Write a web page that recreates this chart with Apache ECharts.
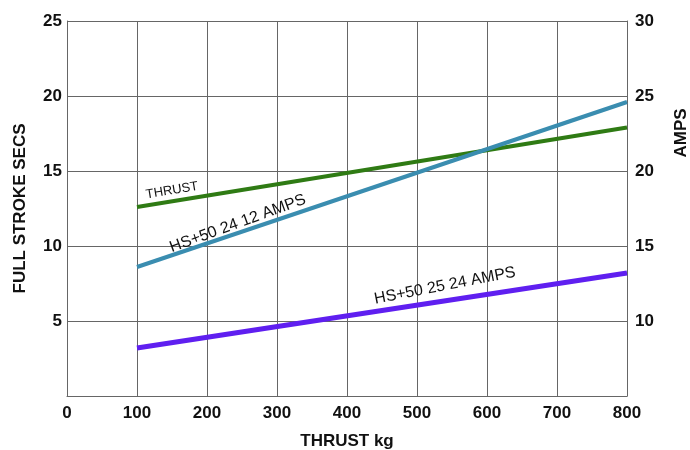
<!DOCTYPE html>
<html>
<head>
<meta charset="utf-8">
<script src="https://cdn.jsdelivr.net/npm/echarts@6/dist/echarts.min.js"></script>
<style>
html,body{margin:0;padding:0;background:#fff;}
#c{width:690px;height:450px;}
</style>
</head>
<body>
<div id="c"></div>
<script>
// ---- data ----
var xTicks = [0, 100, 200, 300, 400, 500, 600, 700, 800];
var leftTicks = [0, 5, 10, 15, 20, 25];
var rightTicks = [5, 10, 15, 20, 25, 30];
var thrustX = [100, 800];
var thrustY = [12.6, 17.9];
var hs2412X = [100, 800];
var hs2412Y = [8.6, 19.6];
var hs2524X = [100, 800];
var hs2524Y = [3.2, 8.2];
var seriesNames = ['THRUST', 'HS+50 24 12 AMPS', 'HS+50 25 24 AMPS'];
// label anchor points (data space) for the in-plot annotations
var labelAnchors = [[150, 13.7], [244, 11.5], [540, 7.35]];

function pairs(xs, ys) { return xs.map(function (x, i) { return [x, ys[i]]; }); }

var FONT = '"Liberation Sans", Arial, sans-serif';
var chart = echarts.init(document.getElementById('c'), null, { renderer: 'canvas' });
var gridCol = '#666666';

var option = {
  animation: false,
  backgroundColor: '#ffffff',
  grid: { left: 67, right: 63, top: 21, bottom: 54, containLabel: false, outerBoundsMode: 'none' },
  xAxis: {
    type: 'value', min: 0, max: 800, interval: 100,
    axisLine: { show: true, lineStyle: { color: gridCol, width: 1 } },
    axisTick: { show: false },
    splitLine: { show: true, lineStyle: { color: gridCol, width: 1 } },
    axisLabel: { color: '#111', fontFamily: FONT, fontWeight: 'bold', fontSize: 17, margin: 9 },
    name: 'THRUST kg', nameLocation: 'middle', nameGap: 37,
    nameTextStyle: { color: '#111', fontFamily: FONT, fontWeight: 'bold', fontSize: 17 }
  },
  yAxis: [{
    type: 'value', min: 0, max: 25, interval: 5,
    axisLine: { show: true, lineStyle: { color: gridCol, width: 1 } },
    axisTick: { show: false },
    splitLine: { show: true, lineStyle: { color: gridCol, width: 1 } },
    axisLabel: { color: '#111', fontFamily: FONT, fontWeight: 'bold', fontSize: 17, margin: 5,
      formatter: function (v) { return v === 0 ? '' : String(v); } },
    name: 'FULL STROKE SECS', nameLocation: 'middle', nameGap: 38, nameRotate: 90,
    nameTextStyle: { color: '#111', fontFamily: FONT, fontWeight: 'bold', fontSize: 17 }
  }, {
    type: 'value', min: 5, max: 30, interval: 5, position: 'right',
    axisLine: { show: true, lineStyle: { color: gridCol, width: 1 } },
    axisTick: { show: false },
    splitLine: { show: false },
    axisLabel: { color: '#111', fontFamily: FONT, fontWeight: 'bold', fontSize: 17, margin: 8,
      formatter: function (v) { return v === 5 ? '' : String(v); } }
  }],
  series: [{
    name: seriesNames[0], type: 'line', yAxisIndex: 0, data: pairs(thrustX, thrustY),
    symbol: 'none', lineStyle: { color: '#2f7b14', width: 4 }, z: 3
  }, {
    name: seriesNames[1], type: 'line', yAxisIndex: 0, data: pairs(hs2412X, hs2412Y),
    symbol: 'none', lineStyle: { color: '#3a8db0', width: 4 }, z: 4
  }, {
    name: seriesNames[2], type: 'line', yAxisIndex: 0, data: pairs(hs2524X, hs2524Y),
    symbol: 'none', lineStyle: { color: '#5f1ff0', width: 5 }, z: 3
  }]
};
chart.setOption(option);

// In-plot annotations positioned through the axes' own scales
var rotations = [9.5, 20, 11];
var sizes = [13, 16, 16];
var graphics = labelAnchors.map(function (p, i) {
  var px = chart.convertToPixel({ gridIndex: 0 }, p);
  return {
    type: 'text', x: px[0], y: px[1], rotation: rotations[i] * Math.PI / 180,
    style: { text: seriesNames[i], fill: '#111', font: sizes[i] + 'px ' + FONT,
      textAlign: 'center', textVerticalAlign: 'middle' }, z: 10
  };
});
// right-axis title
graphics.push({
  type: 'text', x: 681, y: 133, rotation: Math.PI / 2,
  style: { text: 'AMPS', fill: '#111', font: 'bold 17px ' + FONT, textAlign: 'center', textVerticalAlign: 'middle' }
});
chart.setOption({ graphic: graphics });
</script>
</body>
</html>
